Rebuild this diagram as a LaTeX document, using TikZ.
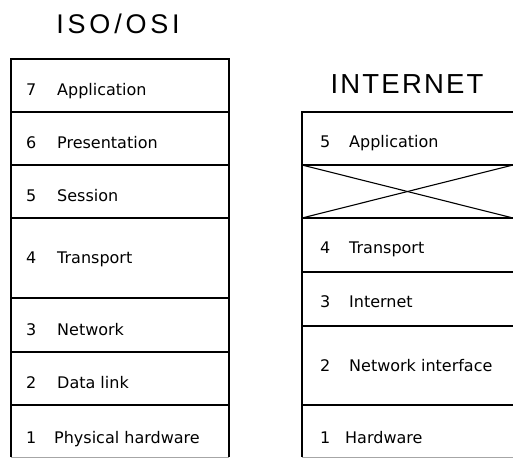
\documentclass[tikz,border=0pt]{standalone}
\usepackage{fontspec}
\setmainfont{DejaVu Sans}
\newfontfamily\titlefont[LetterSpace=14]{Liberation Sans}
\newfontfamily\titlefontb[LetterSpace=8]{Liberation Sans}
\begin{document}
\begin{tikzpicture}[x=1pt,y=-1pt,
  rule/.style={line width=1.1pt},
  faint/.style={line width=0.8pt,black!35},
  txt/.style={anchor=base west,inner sep=0pt,font=\fontsize{16}{18}\selectfont},
  ttl/.style={anchor=base,inner sep=0pt}]
\useasboundingbox (0,0) rectangle (513,459);
% titles
\node[ttl,font=\titlefont\fontsize{27}{30}\selectfont] (tiso) at (118,33) {ISO/OSI};
\node[ttl,font=\titlefontb\fontsize{27.5}{30}\selectfont] (tinet) at (407,93) {INTERNET};
% left stack
\draw[rule] (11,457) -- (11,59) -- (229,59) -- (229,457);
\foreach \y in {112,165,218,298,352,405} \draw[rule] (11,\y) -- (229,\y);
\draw[faint] (11,457) -- (229,457);
\node[txt] (l7n) at (26,95) {7};   \node[txt] (l7) at (57,95) {Application};
\node[txt] (l6n) at (26,148) {6};  \node[txt] (l6) at (57,148) {Presentation};
\node[txt] (l5n) at (26,201.5) {5};\node[txt] (l5) at (57,201.5) {Session};
\node[txt] (l4n) at (26,263) {4};  \node[txt] (l4) at (57,263) {Transport};
\node[txt] (l3n) at (26,335) {3};  \node[txt] (l3) at (57,335) {Network};
\node[txt] (l2n) at (26,388) {2};  \node[txt] (l2) at (57,388) {Data link};
\node[txt] (l1n) at (26,443) {1};  \node[txt] (l1) at (54,443) {Physical hardware};
% right stack
\draw[rule] (302,457) -- (302,112) -- (513,112);
\foreach \y in {165,218,272,326,405} \draw[rule] (302,\y) -- (513,\y);
\draw[faint] (302,457) -- (513,457);
\draw[rule] (302,165) -- (513,218);
\draw[rule] (302,218) -- (513,165);
\node[txt] (r5n) at (320,147) {5};  \node[txt] (r5) at (349,147) {Application};
\node[txt] (r4n) at (320,253) {4};  \node[txt] (r4) at (349,253) {Transport};
\node[txt] (r3n) at (320,307) {3};  \node[txt] (r3) at (349,307) {Internet};
\node[txt] (r2n) at (320,371) {2};  \node[txt] (r2) at (349,371) {Network interface};
\node[txt] (r1n) at (320,443) {1};  \node[txt] (r1) at (345,443) {Hardware};
\end{tikzpicture}
\end{document}
